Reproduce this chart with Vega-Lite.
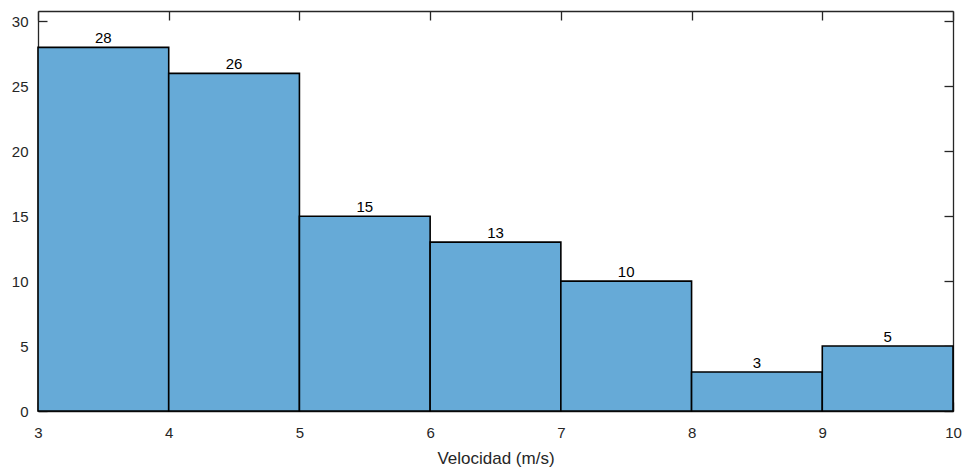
{
  "$schema": "https://vega.github.io/schema/vega-lite/v6.json",
  "width": 915,
  "height": 400,
  "autosize": {"type": "none"},
  "padding": {"left": 38, "top": 11, "right": 15, "bottom": 58},
  "background": "white",
  "config": {
    "view": {"stroke": null},
    "font": "Liberation Sans",
    "axis": {
      "grid": false,
      "domainColor": "#262626",
      "tickColor": "#262626",
      "labelColor": "#262626",
      "titleColor": "#262626",
      "labelFont": "Liberation Sans",
      "titleFont": "Liberation Sans",
      "labelFontSize": 15,
      "titleFontSize": 17,
      "titleFontWeight": "normal",
      "labelFlush": false,
      "labelOverlap": false,
      "tickSize": -9,
      "domainWidth": 1.3,
      "tickWidth": 1.3
    }
  },
  "data": {
    "values": [
      {"start": 3, "end": 4, "mid": 3.5, "count": 28},
      {"start": 4, "end": 5, "mid": 4.5, "count": 26},
      {"start": 5, "end": 6, "mid": 5.5, "count": 15},
      {"start": 6, "end": 7, "mid": 6.5, "count": 13},
      {"start": 7, "end": 8, "mid": 7.5, "count": 10},
      {"start": 8, "end": 9, "mid": 8.5, "count": 3},
      {"start": 9, "end": 10, "mid": 9.5, "count": 5}
    ]
  },
  "layer": [
    {
      "mark": {"type": "rect", "fill": "#66AAD7", "stroke": "#000000", "strokeWidth": 1.6},
      "encoding": {
        "x": {
          "field": "start", "type": "quantitative",
          "scale": {"domain": [3, 10], "nice": false, "zero": false},
          "axis": {"orient": "bottom", "values": [3, 4, 5, 6, 7, 8, 9, 10], "title": "Velocidad (m/s)", "labelPadding": 23, "titlePadding": 10}
        },
        "x2": {"field": "end"},
        "y": {
          "field": "count", "type": "quantitative",
          "scale": {"domain": [0, 30.8], "nice": false},
          "axis": {"orient": "left", "values": [0, 5, 10, 15, 20, 25, 30], "title": null, "labelPadding": 19}
        }
      }
    },
    {
      "mark": {"type": "text", "baseline": "alphabetic", "dy": -4, "fontSize": 15, "color": "#000000", "font": "Liberation Sans"},
      "encoding": {
        "x": {
          "field": "mid", "type": "quantitative",
          "axis": {"orient": "top", "values": [3, 4, 5, 6, 7, 8, 9, 10], "labels": false, "title": null}
        },
        "y": {
          "field": "count", "type": "quantitative",
          "axis": {"orient": "right", "values": [0, 5, 10, 15, 20, 25, 30], "labels": false, "title": null}
        },
        "text": {"field": "count", "type": "quantitative"}
      }
    }
  ],
  "resolve": {"axis": {"x": "independent", "y": "independent"}}
}
